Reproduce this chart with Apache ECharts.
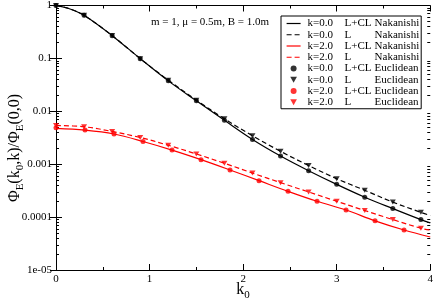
<!DOCTYPE html>
<html><head><meta charset="utf-8">
<script src="https://cdn.jsdelivr.net/npm/echarts@6/dist/echarts.min.js"></script>
<style>html,body{margin:0;padding:0;background:#fff}#c{width:436px;height:301px}</style>
</head><body><div id="c"></div>
<script>
// ---- data ----
const xTickLabels = ['0', '1', '2', '3', '4'];
const yTickLabels = ['1e-05', '0.0001', '0.001', '0.01', '0.1', '1'];

// Nakanishi curves (lines)
const nakK0Black = [0, 0.15, 0.3, 0.6, 0.9, 1.2, 1.5, 1.8, 2.1, 2.4, 2.7, 3.0, 3.3, 3.6, 3.9, 4.0];
const nakK0_LCL = [1, 0.86, 0.653, 0.269, 0.099, 0.0376, 0.0158, 0.00676, 0.00294, 0.00143, 0.000754, 0.000416, 0.000238, 0.000145, 8.97e-5, 7.8e-5];
const nakK0_L   = [1, 0.86, 0.653, 0.27, 0.099, 0.0388, 0.01626, 0.00722, 0.00345, 0.00175, 0.000944, 0.000532, 0.000321, 0.000192, 0.000123, 1.07e-4];
const nakK2_LCL_x = [0, 0.31, 0.62, 0.93, 1.24, 1.55, 1.86, 2.17, 2.48, 2.79, 3.10, 3.41, 3.72, 4.0];
const nakK2_LCL   = [0.00475, 0.0044, 0.00372, 0.00269, 0.00185, 0.00122, 0.000778, 0.000489, 0.000307, 0.000199, 0.000136, 8.5e-5, 5.7e-5, 4.2e-5];
const nakK2_L_x = [0, 0.3, 0.6, 0.9, 1.2, 1.5, 1.8, 2.1, 2.4, 2.7, 3.0, 3.3, 3.6, 3.9, 4.0];
const nakK2_L   = [0.0054, 0.0051, 0.00416, 0.0032, 0.00228, 0.00156, 0.00104, 0.00068, 0.000448, 0.000299, 0.000199, 0.000133, 8.97e-5, 6.15e-5, 5.7e-5];

// Euclidean points (markers)
const eucK0 = [0, 0.3, 0.6, 0.9, 1.2, 1.5, 1.8, 2.1, 2.4, 2.7, 3.0, 3.3, 3.6, 3.9];
const eucK0_LCL = [1, 0.653, 0.269, 0.099, 0.0376, 0.0158, 0.00676, 0.00294, 0.00143, 0.000754, 0.000416, 0.000238, 0.000145, 8.97e-5];
const eucK0_L   = [1, 0.653, 0.27, 0.099, 0.0388, 0.01626, 0.00722, 0.00345, 0.00175, 0.000944, 0.000532, 0.000321, 0.000192, 0.000123];
const eucK2_LCL_x = [0, 0.31, 0.62, 0.93, 1.24, 1.55, 1.86, 2.17, 2.48, 2.79, 3.10, 3.41, 3.72];
const eucK2_LCL   = [0.00489, 0.00442, 0.00372, 0.00269, 0.00185, 0.00122, 0.000778, 0.000489, 0.000307, 0.000199, 0.000136, 8.5e-5, 5.7e-5];
const eucK2_L   = [0.0054, 0.0051, 0.00416, 0.0032, 0.00228, 0.00156, 0.00104, 0.00068, 0.000448, 0.000299, 0.000199, 0.000133, 8.97e-5, 6.15e-5];

const seriesNames = [
  'k=0.0 L+CL Nakanishi', 'k=0.0 L Nakanishi', 'k=2.0 L+CL Nakanishi', 'k=2.0 L Nakanishi',
  'k=0.0 L+CL Euclidean', 'k=0.0 L Euclidean', 'k=2.0 L+CL Euclidean', 'k=2.0 L Euclidean'
];
const annotation = 'm = 1, \u03bc = 0.5m, B = 1.0m';

// ---- build ----
const FONT = 'Liberation Serif';
const pair = (xs, ys) => xs.map((x, i) => [x, ys[i]]);
const triDown = 'path://M0,0L10,0L5,9Z';

const minorVals = [];
for (let e = -5; e <= -1; e++) for (let m = 2; m <= 9; m++) minorVals.push(+(m * Math.pow(10, e)).toPrecision(3));
const majorVals = [1e-5, 1e-4, 1e-3, 1e-2, 1e-1, 1];

function lineSeries(name, data, color, type) {
  return { name, type: 'line', data, symbol: 'none', smooth: 0.35, z: 2,
    lineStyle: { color, width: 1.2, type: type === 'dashed' ? [5, 3] : 'solid' },
    itemStyle: { color }, xAxisIndex: 0, yAxisIndex: 0 };
}
function scatterSeries(name, data, color, symbol, size) {
  return { name, type: 'scatter', data, symbol, symbolSize: size, z: 3,
    itemStyle: { color }, xAxisIndex: 0, yAxisIndex: 0 };
}

const axisLineStyle = { color: '#000', width: 1 };
const yBase = { type: 'log', logBase: 10, min: 1e-5, max: 1, splitLine: { show: false },
  axisLine: { show: true, lineStyle: axisLineStyle } };
const richCol = (w, extra) => Object.assign({ width: w, align: 'left', fontFamily: FONT, fontSize: 11, lineHeight: 11, color: '#000' }, extra || {});

const option = {
  animation: false,
  backgroundColor: '#fff',
  grid: { left: 56, right: 5, top: 4, bottom: 31 },
  xAxis: [
    { type: 'value', min: 0, max: 4, interval: 1, position: 'bottom',
      axisLine: { lineStyle: axisLineStyle },
      axisTick: { inside: true, length: 6, lineStyle: { color: '#000' } },
      minorTick: { show: true, splitNumber: 2, length: 3, lineStyle: { color: '#000' } },
      splitLine: { show: false },
      axisLabel: { margin: 4, color: '#000', fontFamily: FONT, fontSize: 11,
        formatter: (v) => xTickLabels[Math.round(v)] } },
    { type: 'value', min: 0, max: 4, interval: 1, position: 'top',
      axisLine: { lineStyle: axisLineStyle },
      axisTick: { inside: true, length: 6, lineStyle: { color: '#000' } },
      minorTick: { show: true, splitNumber: 2, length: 3, lineStyle: { color: '#000' } },
      splitLine: { show: false }, axisLabel: { show: false } }
  ],
  yAxis: [
    Object.assign({}, yBase, { position: 'left',
      axisTick: { inside: true, length: 6, lineStyle: { color: '#000' }, customValues: majorVals },
      axisLabel: { margin: 4, color: '#000', fontFamily: FONT, fontSize: 11, customValues: majorVals,
        formatter: (v) => yTickLabels[Math.round(Math.log10(v)) + 5] } }),
    Object.assign({}, yBase, { position: 'right',
      axisTick: { inside: true, length: 6, lineStyle: { color: '#000' }, customValues: majorVals },
      axisLabel: { show: false } }),
    Object.assign({}, yBase, { position: 'left', axisLine: { show: false },
      axisTick: { inside: true, length: 3, lineStyle: { color: '#000' }, customValues: minorVals },
      axisLabel: { show: false } }),
    Object.assign({}, yBase, { position: 'right', axisLine: { show: false },
      axisTick: { inside: true, length: 3, lineStyle: { color: '#000' }, customValues: minorVals },
      axisLabel: { show: false } })
  ],
  legend: {
    orient: 'vertical', left: 281, top: 16, align: 'left',
    padding: [2, 2, 1, 5], itemGap: 0.25, itemWidth: 14, itemHeight: 6,
    borderColor: '#000', borderWidth: 1, backgroundColor: '#fff', borderRadius: 0,
    data: seriesNames.map((n, i) => (i < 4
      ? { name: n, itemStyle: { opacity: 0 }, lineStyle: { width: 1.2 } }
      : { name: n })),
    formatter: (name) => {
      const p = name.split(' ');
      return '{a|' + p[0] + '}{b|' + p[1] + '}{c|' + p[2] + '}';
    },
    textStyle: { fontFamily: FONT, fontSize: 11, color: '#000', lineHeight: 11, align: 'left',
      rich: { a: richCol(37, { padding: [0, 0, 0, 2] }), b: richCol(30), c: richCol(42) } }
  },
  graphic: [
    { type: 'text', x: 151, y: 22, style: { text: annotation, fontFamily: FONT, fontSize: 11, fill: '#000', align: 'left', verticalAlign: 'middle' } },
    { type: 'text', x: 15, y: 148, rotation: Math.PI / 2,
      style: { text: '{m|\u03a6}{s|E}{m|(k}{s|0}{m|,k)/\u03a6}{s|E}{m|(0,0)}',
        fill: '#000', align: 'center', verticalAlign: 'middle', fontFamily: FONT, fontSize: 16,
        rich: { m: { fontFamily: FONT, fontSize: 16, fill: '#000' },
                s: { fontFamily: FONT, fontSize: 11, fill: '#000', padding: [10, 0, 0, 0] } } } },
    { type: 'text', x: 243, y: 290,
      style: { text: '{m|k}{s|0}', fill: '#000', align: 'center', verticalAlign: 'middle', fontFamily: FONT, fontSize: 16,
        rich: { m: { fontFamily: FONT, fontSize: 16, fill: '#000' },
                s: { fontFamily: FONT, fontSize: 11, fill: '#000', padding: [10, 0, 0, 0] } } } }
  ],
  series: [
    lineSeries(seriesNames[0], pair(nakK0Black, nakK0_LCL), '#000', 'solid'),
    lineSeries(seriesNames[1], pair(nakK0Black, nakK0_L), '#000', 'dashed'),
    lineSeries(seriesNames[2], pair(nakK2_LCL_x, nakK2_LCL), '#ff0000', 'solid'),
    lineSeries(seriesNames[3], pair(nakK2_L_x, nakK2_L), '#ff0000', 'dashed'),
    scatterSeries(seriesNames[4], pair(eucK0, eucK0_LCL), '#000', 'circle', 5),
    scatterSeries(seriesNames[5], pair(eucK0, eucK0_L), '#000', triDown, [6, 5]),
    scatterSeries(seriesNames[6], pair(eucK2_LCL_x, eucK2_LCL), '#ff0000', 'circle', 5),
    scatterSeries(seriesNames[7], pair(eucK0, eucK2_L), '#ff0000', triDown, [6, 5])
  ]
};
const chart = echarts.init(document.getElementById('c'), null, { renderer: 'canvas' });
chart.setOption(option);
</script>
</body></html>
